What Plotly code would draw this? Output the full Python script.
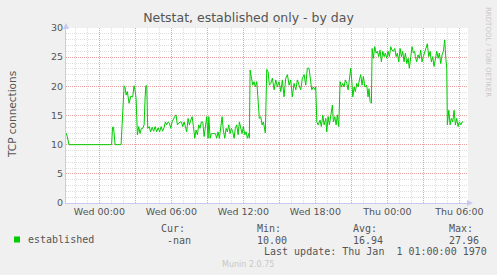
import plotly.graph_objects as go

# ---- data (hours relative to Wed 00:00, TCP connections) ----
hours = [
    -2.78, -2.69, -2.53, 1.02, 1.10, 1.18, 1.31, 1.81,
    2.06, 2.14, 2.23, 2.33, 2.48, 2.62, 2.78, 2.89, 3.00, 3.06, 3.17, 3.28,
    3.39, 3.50, 3.62, 3.73, 3.81, 3.87, 3.95, 4.03,
    4.15, 4.27, 4.40, 4.52, 4.65, 4.77, 4.90, 5.02, 5.15, 5.27, 5.40,
    5.50, 5.61, 5.73, 5.84, 5.95, 6.06, 6.17, 6.28, 6.39, 6.50, 6.62, 6.73,
    6.84, 6.95, 7.06, 7.17, 7.28, 7.39, 7.50, 7.62, 7.73, 7.84, 7.95, 8.06,
    8.17, 8.28, 8.39, 8.50, 8.62, 8.73, 8.83, 8.95, 9.06, 9.12, 9.23, 9.33,
    9.45, 9.56,
    9.67, 9.78, 9.89, 10.00, 10.12, 10.23, 10.33, 10.45, 10.56, 10.67, 10.78,
    10.89, 11.00, 11.12, 11.23, 11.33, 11.45, 11.56, 11.67, 11.78, 11.89,
    12.00, 12.12, 12.23, 12.33, 12.45, 12.50, 12.56, 12.67, 12.78, 12.89,
    13.00, 13.12, 13.23, 13.33, 13.45, 13.56, 13.67, 13.78,
    13.83, 13.95, 14.06, 14.17, 14.28, 14.42, 14.56, 14.70, 14.83, 14.97,
    15.12, 15.25, 15.39, 15.53, 15.67, 15.81, 15.95, 16.08, 16.22, 16.37,
    16.50, 16.64, 16.78, 16.92, 17.06, 17.20, 17.33, 17.47, 17.62, 17.70,
    17.83, 17.97,
    18.03, 18.12, 18.23, 18.39, 18.50, 18.62, 18.73, 18.87, 18.95, 19.06,
    19.17, 19.28, 19.42, 19.50, 19.62, 19.73, 19.83, 19.95, 20.06, 20.17,
    20.28, 20.39, 20.50, 20.62, 20.73, 20.83, 20.95, 21.03, 21.12, 21.23,
    21.33, 21.45, 21.56, 21.67, 21.78, 21.89, 22.00, 22.12,
    22.17, 22.28, 22.39, 22.47, 22.56, 22.67, 22.73, 22.83, 22.95, 23.06,
    23.17, 23.28, 23.39, 23.50, 23.62, 23.73, 23.83, 23.95, 24.06, 24.17,
    24.28, 24.39, 24.50, 24.62, 24.73, 24.83, 24.95, 25.06, 25.17, 25.28,
    25.39, 25.50, 25.62, 25.73, 25.83, 25.95, 26.06, 26.17, 26.28,
    26.33, 26.45, 26.56, 26.67, 26.78, 26.89, 27.00, 27.12, 27.23, 27.33,
    27.45, 27.56, 27.67, 27.78, 27.89, 28.00, 28.12, 28.23, 28.33, 28.45,
    28.56, 28.67, 28.78, 28.87, 28.95, 29.00, 29.12, 29.23, 29.33, 29.45,
    29.56, 29.67, 29.78, 29.89, 30.00, 30.12, 30.23, 30.33,
]
established = [
    12.0, 11.5, 10.0, 10.0, 13.0, 13.0, 10.0, 10.0,
    20.1, 19.9, 18.5, 19.1, 17.1, 18.3, 18.2, 20.1, 19.0, 17.9, 11.7, 13.1,
    11.9, 12.8, 12.8, 13.4, 18.0, 20.1, 20.1, 12.8,
    13.1, 12.2, 13.0, 12.3, 13.1, 12.2, 12.9, 12.2, 13.1, 12.3, 13.0,
    13.9, 13.4, 13.9, 13.7, 12.8, 13.9, 14.5, 14.8, 15.1, 13.4, 13.7, 13.9,
    13.9, 13.1, 13.9, 12.8, 12.2, 14.5, 13.4, 14.2, 14.8, 13.1, 11.1, 12.5,
    11.7, 13.4, 12.8, 13.9, 13.9, 11.4, 13.4, 14.8, 11.1, 14.8, 11.1, 11.9,
    11.9, 11.9,
    11.9, 11.1, 12.2, 11.1, 13.1, 14.8, 12.5, 11.1, 12.8, 12.2, 13.4,
    11.9, 12.8, 12.2, 11.1, 12.8, 13.4, 11.7, 13.9, 12.8, 11.9,
    13.1, 11.7, 12.2, 11.1, 11.9, 11.1, 22.8, 21.1, 20.2, 20.8,
    19.9, 20.8, 17.6, 14.5, 14.8, 13.4, 13.9, 12.2,
    12.0, 22.9, 22.5, 20.2, 20.5, 21.4, 19.4, 21.1, 19.9, 20.8,
    19.1, 21.1, 18.2, 21.4, 22.0, 20.2, 21.1, 18.2, 20.5, 19.4,
    21.1, 20.2, 19.4, 21.4, 22.0, 20.2, 23.1, 23.1, 20.5, 19.4,
    19.9, 19.4,
    19.9, 13.9, 13.4, 14.2, 13.1, 15.1, 13.4, 14.5, 12.2, 14.8,
    13.4, 14.8, 16.8, 13.9, 14.8, 13.4, 15.1, 13.1, 20.8, 19.9,
    20.5, 19.9, 21.1, 20.5, 19.4, 21.1, 23.1, 21.1, 18.2, 19.9,
    19.1, 20.5, 19.9, 21.1, 22.0, 20.2, 21.7, 19.9,
    19.9, 20.2, 18.2, 19.6, 17.4, 17.1, 26.5, 24.8, 26.8, 25.7,
    26.0, 25.1, 26.2, 24.2, 26.0, 25.1, 25.7, 24.8, 26.0, 25.1,
    26.8, 26.2, 26.0, 26.5, 25.1, 25.7, 24.2, 26.5, 25.1, 26.0,
    24.2, 25.7, 23.9, 24.8, 23.1, 25.1, 26.8, 25.7, 26.0,
    25.1, 24.2, 25.4, 24.8, 26.2, 24.2, 25.1, 26.0, 26.8, 27.3,
    25.1, 26.0, 24.2, 25.1, 23.4, 24.5, 26.0, 24.8, 25.7, 23.9,
    25.4, 26.0, 27.96, 24.8, 23.1, 13.4, 15.9, 13.4, 14.5, 13.9,
    15.9, 13.4, 14.5, 13.1, 13.9, 13.4, 13.9, 13.9,
]

tick_hours = [0, 3, 6, 9, 12, 15, 18, 21, 24, 27, 30]
tick_labels = ["Wed 00:00", "", "Wed 06:00", "", "Wed 12:00", "",
               "Wed 18:00", "", "Thu 00:00", "", "Thu 06:00"]
x_range = [-2.78, 30.72]
y_range = [0, 30]

title_text = "Netstat, established only - by day"
y_title = "TCP connections"
series_name = "established"
stat_heads = ["Cur:", "Min:", "Avg:", "Max:"]
stat_values = ["-nan", "10.00", "16.94", "27.96"]
last_update = "Last update: Thu Jan  1 01:00:00 1970"
credit = "Munin 2.0.75"
side_text = "RRDTOOL / TOBI OETIKER"

# ---- layout geometry ----
W, H = 497, 275
L, R, T, B = 66, 29, 28, 72
PW, PH = W - L - R, H - T - B

def px(x):
    return (x - L) / PW

def py(y):
    return (H - B - y) / PH

GREEN = "#00CC00"
TXT = "#555555"
MONO = "DejaVu Sans Mono"
SANS = "DejaVu Sans"
AXIS = "#C8C8F0"
MAJOR = "#E6A0A0"
MINOR = "#DEDEDE"

fig = go.Figure()
fig.add_trace(go.Scatter(x=hours, y=established, mode="lines",
                         line=dict(color=GREEN, width=1), showlegend=False,
                         hoverinfo="skip"))

fig.update_layout(
    width=W, height=H,
    margin=dict(l=L, r=R, t=T, b=B, pad=0),
    paper_bgcolor="#F0F0F0", plot_bgcolor="#FFFFFF",
    title=dict(text=title_text, x=0.5, xref="container", xanchor="center",
               y=1 - 18 / H, yanchor="middle",
               font=dict(family=SANS, size=12.5, color=TXT)),
    font=dict(family=SANS, color=TXT),
)

fig.update_xaxes(
    range=x_range, tickmode="array", tickvals=tick_hours, ticktext=tick_labels,
    showgrid=True, gridcolor=MAJOR, griddash="1px,1px", gridwidth=1,
    minor=dict(dtick=1, tick0=0, showgrid=True, gridcolor=MINOR,
               griddash="1px,1px", gridwidth=1),
    showline=True, linecolor=AXIS, linewidth=1, mirror=False,
    zeroline=False, ticks="", tickfont=dict(family=SANS, size=9.5, color=TXT),
    fixedrange=True, layer="below traces",
)
fig.update_yaxes(
    range=y_range, dtick=5, tick0=0,
    showgrid=True, gridcolor=MAJOR, griddash="1px,1px", gridwidth=1,
    minor=dict(dtick=1, tick0=0, showgrid=True, gridcolor=MINOR,
               griddash="1px,1px", gridwidth=1),
    showline=True, linecolor=AXIS, linewidth=1,
    zeroline=False, ticks="", tickfont=dict(family=SANS, size=9.5, color=TXT),
    fixedrange=True,
)

ann = []
ann.append(dict(text=y_title, x=px(12), y=py(115), xref="paper", yref="paper",
                showarrow=False, textangle=-90, xanchor="center", yanchor="middle",
                font=dict(family=SANS, size=10.5, color=TXT)))
ann.append(dict(text=side_text, x=px(488), y=py(5), xref="paper", yref="paper",
                showarrow=False, textangle=90, xanchor="center", yanchor="top",
                font=dict(family=SANS, size=7, color="#C8C8C8")))
ann.append(dict(text=series_name, x=px(26), y=py(239.5), xref="paper", yref="paper",
                showarrow=False, xanchor="left", yanchor="middle",
                font=dict(family=MONO, size=10, color=TXT)))
head_x = [158.5, 254.5, 351, 446.5]
val_x = [165, 255, 351, 447]
for hx, vx, h, v in zip(head_x, val_x, stat_heads, stat_values):
    ann.append(dict(text=h, x=px(hx), y=py(228), xref="paper", yref="paper",
                    showarrow=False, xanchor="left", yanchor="middle",
                    font=dict(family=MONO, size=10, color=TXT)))
    ann.append(dict(text=v, x=px(vx), y=py(240), xref="paper", yref="paper",
                    showarrow=False, xanchor="left", yanchor="middle",
                    font=dict(family=MONO, size=10, color=TXT)))
ann.append(dict(text=last_update, x=px(261.5), y=py(251), xref="paper", yref="paper",
                showarrow=False, xanchor="left", yanchor="middle",
                font=dict(family=MONO, size=10, color=TXT)))
ann.append(dict(text=credit, x=px(248), y=py(264), xref="paper", yref="paper",
                showarrow=False, xanchor="center", yanchor="middle",
                font=dict(family=SANS, size=8, color="#C8C8C8")))
fig.update_layout(annotations=ann)

fig.add_shape(type="rect", xref="paper", yref="paper",
              x0=px(14), x1=px(20), y0=py(236.5), y1=py(242.5),
              fillcolor=GREEN, line=dict(width=0), layer="above")
fig.add_shape(type="path", xref="paper", yref="paper",
              path=f"M {px(63)} {py(29)} L {px(69)} {py(29)} L {px(66)} {py(23)} Z",
              fillcolor=AXIS, line=dict(width=0), layer="above")
fig.add_shape(type="path", xref="paper", yref="paper",
              path=f"M {px(467)} {py(200)} L {px(467)} {py(206)} L {px(473)} {py(203)} Z",
              fillcolor=AXIS, line=dict(width=0), layer="above")

fig.write_html("out.html")
